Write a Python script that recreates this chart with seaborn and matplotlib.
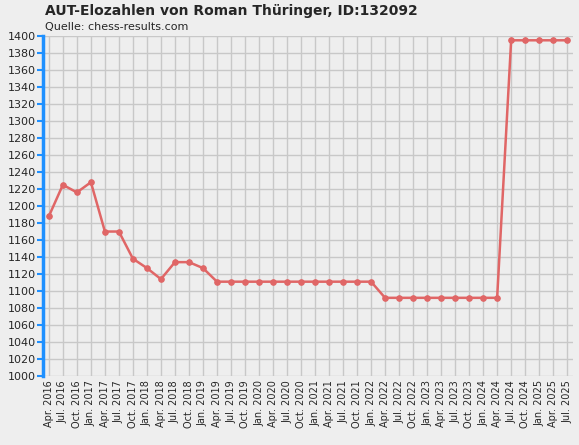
import numpy as np
import matplotlib
matplotlib.use("Agg")
import matplotlib.pyplot as plt
import seaborn as sns

months = ["Jan.", "Apr.", "Jul.", "Oct."]
labels = [f"{m} {y}" for y in range(2016, 2026) for m in months]
labels = labels[1:labels.index("Jul. 2025") + 1]

elo = [1188, 1225, 1216, 1228, 1170, 1170, 1138, 1127, 1114, 1134, 1134, 1127,
       1111, 1111, 1111, 1111, 1111, 1111, 1111, 1111, 1111, 1111, 1111, 1111,
       1092, 1092, 1092, 1092, 1092, 1092, 1092, 1092, 1092,
       1395, 1395, 1395, 1395, 1395]

sns.set_style("whitegrid")
plt.rcParams["font.family"] = ["DejaVu Sans"]

fig = plt.figure(figsize=(5.79, 4.45), dpi=100, facecolor="#eeeeee")
ax = fig.add_axes([0.074, 0.155, 0.916, 0.764])
ax.set_facecolor("#eeeeee")

x = np.arange(len(elo))
sns.lineplot(x=x, y=elo, ax=ax, color="#e06666", linewidth=1.8, marker="o",
             markersize=4, markeredgecolor="#e06666")

ax.set_xlim(-0.43, len(elo) - 0.57)
ax.set_ylim(1000, 1400)
ax.set_yticks(range(1000, 1401, 20))
ax.set_xticks(x)
ax.set_xticklabels(labels, rotation=90, fontsize=7)
ax.tick_params(axis="y", left=True, labelsize=8, length=4, width=1.5,
               color="#1e90ff", direction="out", pad=1)
ax.tick_params(axis="x", length=0, pad=3)
ax.grid(True, color="#c8c8c8", linewidth=1)
for side in ["top", "right", "bottom"]:
    ax.spines[side].set_visible(False)
ax.spines["left"].set_color("#1e90ff")
ax.spines["left"].set_linewidth(2.5)

fig.text(0.078, 0.966, "AUT-Elozahlen von Roman Thüringer, ID:132092",
         fontsize=10, fontweight="bold")
fig.text(0.078, 0.932, "Quelle: chess-results.com", fontsize=8)

fig.savefig("out.png", dpi=100, facecolor=fig.get_facecolor())
